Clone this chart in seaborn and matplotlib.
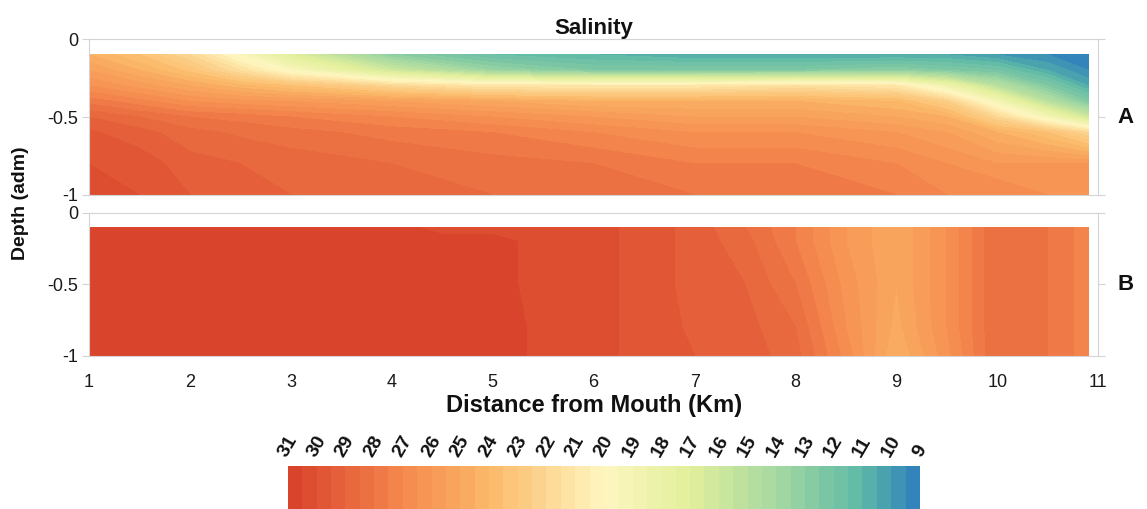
import numpy as np
import matplotlib
matplotlib.use("Agg")
import matplotlib.pyplot as plt
from matplotlib.colors import LinearSegmentedColormap
import seaborn as sns

sns.set_style("white")
plt.rcParams['font.family'] = ['Liberation Sans', 'DejaVu Sans']
plt.rcParams['text.color'] = '#111111'

# ---------------------------------------------------------
# data
# ---------------------------------------------------------
dist_a = [1, 1.5, 2, 2.5, 3, 4, 5, 6, 7, 8, 9, 9.5, 10, 10.5, 10.9]
depth_a = [-0.1, -0.2, -0.3, -0.4, -0.5, -0.6, -0.8, -1.0]
sal_a = [
    [24.5, 23.5, 22.0, 19.5, 17.0, 13.0, 11.5, 11.0, 10.5, 10.5, 10.5, 10.5, 10.0, 9.5, 9.0],
    [25.5, 24.5, 23.3, 21.5, 19.5, 16.0, 13.5, 12.5, 12.5, 12.5, 13.0, 12.5, 12.0, 10.5, 9.5],
    [26.5, 25.8, 25.0, 24.2, 23.5, 22.0, 21.0, 21.0, 21.0, 21.5, 21.0, 18.5, 15.0, 12.5, 10.5],
    [27.8, 27.2, 26.5, 26.2, 26.0, 25.5, 25.0, 24.5, 24.5, 24.5, 24.0, 22.5, 19.0, 15.0, 12.5],
    [29.0, 28.5, 28.0, 27.8, 27.5, 27.0, 26.5, 26.0, 25.5, 25.5, 25.0, 24.5, 22.0, 19.0, 16.0],
    [29.6, 29.2, 28.7, 28.4, 28.2, 27.8, 27.5, 27.0, 26.5, 26.5, 26.0, 25.5, 24.5, 23.5, 22.0],
    [30.0, 29.8, 29.2, 29.0, 28.8, 28.5, 28.2, 28.0, 27.5, 27.5, 27.0, 26.5, 26.0, 26.0, 26.0],
    [30.3, 30.0, 29.5, 29.3, 29.0, 28.7, 28.5, 28.5, 28.0, 28.0, 27.5, 27.0, 27.0, 26.5, 26.5],
]

dist_b = [1, 2, 3, 4, 4.5, 5, 5.5, 6, 6.5, 7, 7.5, 8, 8.5, 9, 9.5, 10, 10.5, 10.9]
depth_b = [-0.1, -0.2, -0.5, -0.8, -1.0]
sal_b = [
    [30.8, 30.8, 30.8, 30.7, 30.3, 30.4, 30.4, 30.2, 29.8, 29.3, 28.5, 27.5, 26.0, 25.0, 26.5, 28.5, 28.0, 27.2],
    [30.8, 30.8, 30.8, 30.8, 30.7, 30.6, 30.4, 30.2, 29.8, 29.3, 28.7, 27.5, 26.0, 25.0, 26.5, 28.5, 28.0, 27.2],
    [30.8, 30.8, 30.8, 30.8, 30.8, 30.6, 30.4, 30.2, 29.8, 29.3, 29.0, 28.0, 26.3, 25.0, 26.5, 28.5, 28.0, 27.2],
    [30.8, 30.8, 30.8, 30.8, 30.8, 30.7, 30.4, 30.2, 29.8, 29.4, 29.2, 28.5, 26.5, 24.8, 26.5, 28.5, 28.0, 27.2],
    [30.8, 30.8, 30.8, 30.8, 30.8, 30.7, 30.4, 30.2, 29.8, 29.5, 29.3, 28.7, 26.8, 24.5, 26.3, 28.5, 28.0, 27.2],
]

cbar_ticks = list(range(9, 32))

# ---------------------------------------------------------
# colour map (spectral-like, blue = fresh, red = salty)
# ---------------------------------------------------------
anchors = [(9, "#2f7fbc"), (11, "#5db9a7"), (14, "#a6d9a0"), (17, "#e2ef9c"),
           (20, "#fef6c0"), (24, "#fbb968"), (27, "#f5894e"), (31, "#d8412a")]
cmap = LinearSegmentedColormap.from_list(
    "sal", [((v - 9) / 22, c) for v, c in anchors])
levels = np.arange(9, 31.01, 0.5)

# ---------------------------------------------------------
# figure
# ---------------------------------------------------------
fig = plt.figure(figsize=(11.47, 5.09), dpi=100)
ax_a = fig.add_axes([0.0776, 0.617, 0.880, 0.306])
ax_b = fig.add_axes([0.0776, 0.3006, 0.880, 0.281])
cax = fig.add_axes([0.251, -0.005, 0.551, 0.09])

grey = "#d4d4d4"
for ax, x, y, z in [(ax_a, dist_a, depth_a, sal_a), (ax_b, dist_b, depth_b, sal_b)]:
    cf = ax.contourf(x, y, z, levels=levels, cmap=cmap)
    ax.set_xlim(1, 11)
    ax.set_ylim(-1, 0)
    ax.set_xticks(range(1, 12))
    ax.set_yticks([0, -0.5, -1])
    ax.set_yticklabels(["0", "-0.5", "-1"])
    ax.tick_params(axis="both", labelsize=13, colors="#1a1a1a", direction="out",
                   length=5, width=0.8, pad=3)
    ax.tick_params(axis="both", color=grey)
    ax.tick_params(axis="y", right=True, left=True)
    for s in ax.spines.values():
        s.set_color(grey)
        s.set_linewidth(0.8)

ax_a.tick_params(axis="x", labelbottom=False, length=14)
ax_b.tick_params(axis="x", pad=8)
ax_a.set_title("Salinity", fontsize=16, fontweight="bold", pad=3, color="#111111")
ax_b.set_xlabel("Distance from Mouth (Km)", fontsize=17, fontweight="bold",
                labelpad=2, color="#111111")

fig.text(0.018, 0.60, "Depth (adm)", rotation=90, ha="center", va="center",
         fontsize=14, fontweight="bold")
ax_a.text(1.027, 0.5, "A", transform=ax_a.transAxes, fontsize=16, fontweight="bold",
          ha="center", va="center")
ax_b.text(1.027, 0.5, "B", transform=ax_b.transAxes, fontsize=16, fontweight="bold",
          ha="center", va="center")

cbar = fig.colorbar(cf, cax=cax, orientation="horizontal", drawedges=True)
cbar.dividers.set_color((0.3, 0.3, 0.3, 0.15))
cbar.dividers.set_linewidth(0.6)
cbar.outline.set_visible(False)
cbar.set_ticks(cbar_ticks)
cbar.set_ticklabels([str(t) for t in cbar_ticks])
cax.invert_xaxis()
cax.xaxis.set_ticks_position("top")
cax.tick_params(axis="x", length=0, pad=4, labelsize=14, labelcolor="#111111")
for lab in cax.get_xticklabels():
    lab.set_rotation(60)
    lab.set_fontweight("bold")
    lab.set_ha("center")
    lab.set_va("bottom")

fig.savefig("out.png", dpi=100)
